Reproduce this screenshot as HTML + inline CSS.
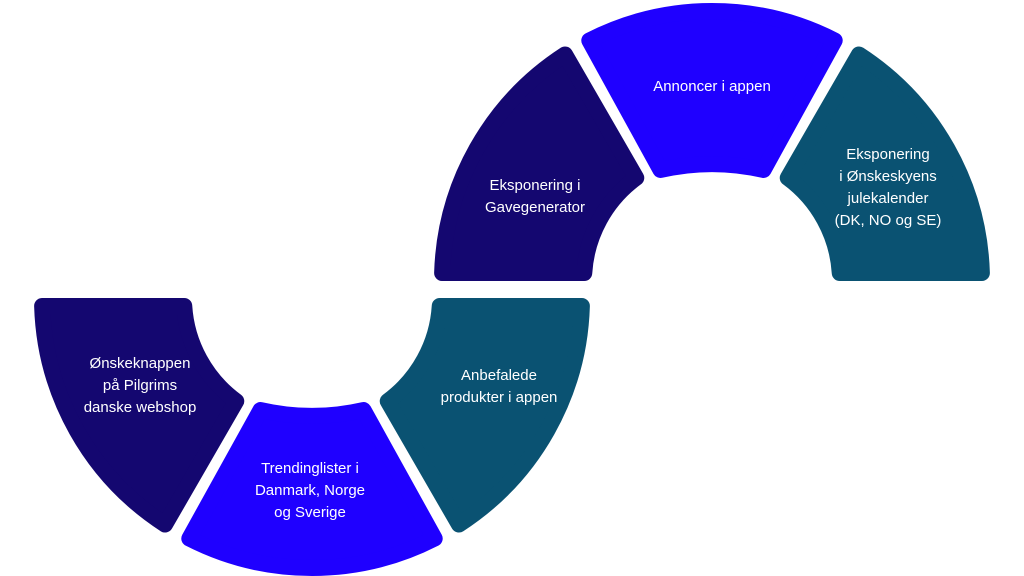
<!DOCTYPE html>
<html><head><meta charset="utf-8"><style>
html,body{margin:0;padding:0;background:#fff;width:1024px;height:576px;overflow:hidden}
svg text{font-family:"Liberation Sans",sans-serif;font-size:15px;fill:#fff;text-anchor:middle}
</style></head><body>
<svg id="s" width="1024" height="576" viewBox="0 0 1024 576" xmlns="http://www.w3.org/2000/svg"></svg>
<script>
var s=document.getElementById('s'),NS='http://www.w3.org/2000/svg';
function seg(cx,cy,R,r,t1,t2,d1,d2,col,up,mid){
 var sw=16,Ro=R-8,Ri=r+8,k=Math.PI/180;
 function p(rho,a){return [cx+rho*Math.cos(a),up?cy-rho*Math.sin(a):cy+rho*Math.sin(a)];}
 var a1=t1*k,a2=t2*k;
 var o1=a1+Math.asin(d1/Ro),o2=a2-Math.asin(d2/Ro),i1=a1+Math.asin(d1/Ri),i2=a2-Math.asin(d2/Ri);
 var A=p(Ro,o1),B=p(Ro,o2),C=p(Ri,i2),D=p(Ri,i1);
 var ri=Ri;
 if(mid){var yy=up?cy-mid:cy+mid;C[1]=yy;D[1]=yy;ri=230;}
 var sw1=up?0:1,sw2=up?1:0;
 var dstr='M'+A[0]+' '+A[1]+' A'+Ro+' '+Ro+' 0 0 '+sw1+' '+B[0]+' '+B[1]+' L'+C[0]+' '+C[1]+' A'+ri+' '+ri+' 0 0 '+sw2+' '+D[0]+' '+D[1]+' Z';
 var e=document.createElementNS(NS,'path');e.setAttribute('d',dstr);
 e.setAttribute('fill',col);e.setAttribute('stroke',col);e.setAttribute('stroke-width',sw);e.setAttribute('stroke-linejoin','round');
 s.insertBefore(e,s.firstChild);
}
var N='#140770',B='#1f00ff',T='#0a5272';
seg(712,281,278,120,0,60,8,14,T,true);
seg(712,281,278,120,60,120,14,14,B,true,111);
seg(712,281,278,120,120,180,14,8,N,true);
seg(312,298,278,120,0,60,8,14,T,false);
seg(312,298,278,120,60,120,14,14,B,false,112);
seg(312,298,278,120,120,180,14,8,N,false);
var txt=[
 [712,91,["Annoncer i appen"]],
 [535,190,["Eksponering i","Gavegenerator"]],
 [888,159,["Eksponering","i Ønskeskyens","julekalender","(DK, NO og SE)"]],
 [140,368,["Ønskeknappen","på Pilgrims","danske webshop"]],
 [499,380,["Anbefalede","produkter i appen"]],
 [310,473,["Trendinglister i","Danmark, Norge","og Sverige"]]
];
txt.forEach(function(t){t[2].forEach(function(l,i){var e=document.createElementNS(NS,'text');e.setAttribute('x',t[0]);e.setAttribute('y',t[1]+i*22);e.textContent=l;s.appendChild(e);});});
</script>
</body></html>
